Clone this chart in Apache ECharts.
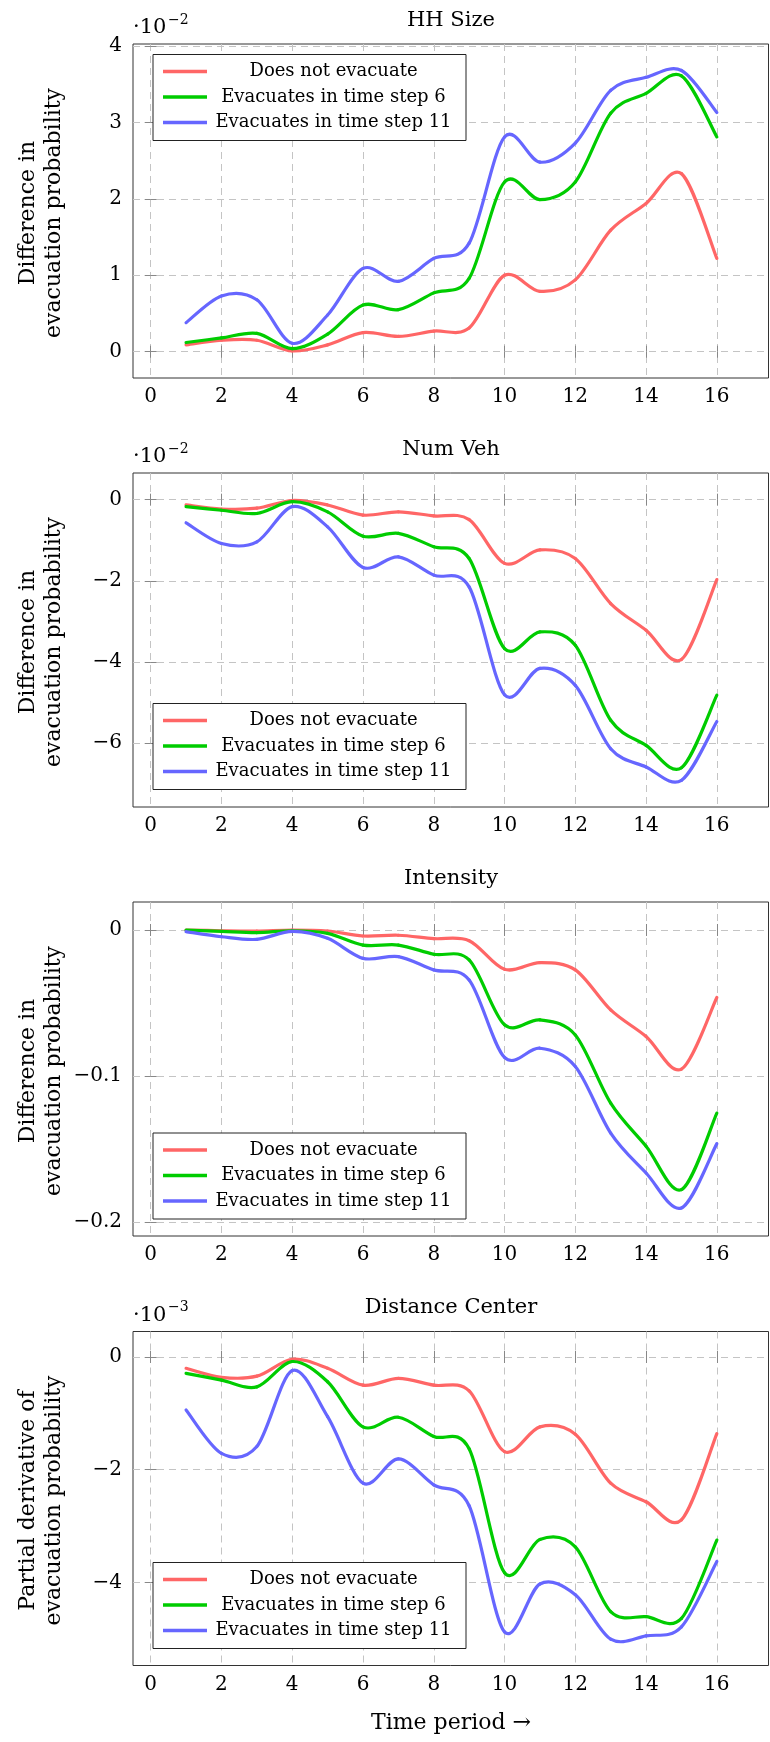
<!DOCTYPE html>
<html>
<head>
<meta charset="utf-8">
<script src="https://cdn.jsdelivr.net/npm/echarts@6/dist/echarts.min.js"></script>
<style>
html,body{margin:0;padding:0;background:#fff;}
#chart{width:770px;height:1742px;}
</style>
</head>
<body>
<div id="chart"></div>
<script>
// ---------- data ----------
const timeSteps = [1,2,3,4,5,6,7,8,9,10,11,12,13,14,15,16];
const xTicks = [0,2,4,6,8,10,12,14,16];
const seriesNames = ['Does not evacuate','Evacuates in time step 6','Evacuates in time step 11'];
const seriesColors = ['#ff6666','#00cc00','#6666ff'];

// HH Size (x 10^-2)
const hhRed   = [0.09,0.15,0.15,0.01,0.09,0.25,0.20,0.27,0.31,1.00,0.79,0.94,1.59,1.94,2.33,1.22];
const hhGreen = [0.12,0.18,0.24,0.04,0.23,0.61,0.55,0.77,0.96,2.22,1.99,2.22,3.12,3.38,3.61,2.81];
const hhBlue  = [0.38,0.73,0.68,0.11,0.48,1.09,0.92,1.22,1.42,2.81,2.48,2.73,3.42,3.59,3.68,3.13];
const hhTicks = [0,1,2,3,4];

// Num Veh (x 10^-2)
const nvRed   = [-0.13,-0.23,-0.21,-0.02,-0.13,-0.38,-0.30,-0.40,-0.49,-1.57,-1.24,-1.45,-2.56,-3.22,-3.94,-1.97];
const nvGreen = [-0.17,-0.26,-0.34,-0.05,-0.30,-0.90,-0.83,-1.16,-1.45,-3.67,-3.26,-3.59,-5.44,-6.06,-6.61,-4.82];
const nvBlue  = [-0.57,-1.08,-1.04,-0.17,-0.67,-1.67,-1.41,-1.86,-2.15,-4.81,-4.16,-4.58,-6.14,-6.59,-6.92,-5.47];
const nvTicks = [-6,-4,-2,0];

// Intensity
const inRed   = [0,-0.0005,-0.0007,0,-0.0007,-0.0041,-0.0036,-0.0059,-0.0073,-0.0269,-0.0223,-0.0273,-0.0547,-0.0729,-0.0952,-0.0462];
const inGreen = [0,-0.0009,-0.0018,-0.0005,-0.0023,-0.0103,-0.0103,-0.0166,-0.0205,-0.0649,-0.0615,-0.0718,-0.1185,-0.1480,-0.1777,-0.1253];
const inBlue  = [-0.0011,-0.0046,-0.0064,-0.0009,-0.0057,-0.0194,-0.0182,-0.0273,-0.0342,-0.0872,-0.0809,-0.0934,-0.1390,-0.1663,-0.1902,-0.1462];
const inTicks = [-0.2,-0.1,0];

// Distance Center (x 10^-3)
const dcRed   = [-0.20,-0.36,-0.34,-0.04,-0.20,-0.50,-0.38,-0.50,-0.60,-1.68,-1.24,-1.37,-2.24,-2.57,-2.89,-1.36];
const dcGreen = [-0.29,-0.41,-0.53,-0.08,-0.44,-1.24,-1.07,-1.41,-1.63,-3.83,-3.24,-3.37,-4.52,-4.61,-4.64,-3.25];
const dcBlue  = [-0.94,-1.71,-1.59,-0.24,-1.06,-2.24,-1.81,-2.27,-2.64,-4.88,-4.03,-4.22,-5.01,-4.95,-4.79,-3.63];
const dcTicks = [-4,-2,0];

const panelTitles = ['HH Size','Num Veh','Intensity','Distance Center'];
const panelExponents = ['−2','−2','','−3'];
const yLabelLine1 = ['Difference in','Difference in','Difference in','Partial derivative of'];
const yLabelLine2 = 'evacuation probability';
const xAxisTitle = 'Time period →';

// ---------- layout ----------
const FONT = '"DejaVu Serif", serif';
const GRID_LEFT = 133, GRID_W = 635.5, GRID_H = 334;
const gridTops = [44, 473, 902, 1331.5];
const yRanges = [[-0.344,4.026],[-7.578,0.658],[-0.2094,0.01916],[-5.477,0.453]];
const legendTops = [54.5, 703.5, 1133, 1562.5];
const TENSION = 0.16;   // cardinal-spline handle factor (like a "smooth" plot)

const panels = [
  {data:[hhRed,hhGreen,hhBlue], ticks:hhTicks},
  {data:[nvRed,nvGreen,nvBlue], ticks:nvTicks},
  {data:[inRed,inGreen,inBlue], ticks:inTicks},
  {data:[dcRed,dcGreen,dcBlue], ticks:dcTicks}
];

const fmt = v => String(v).replace('-', '−');
const tickStyle = {show:true, inside:true, length:6, lineStyle:{color:'#888', width:1}};
const splitStyle = {show:true, lineStyle:{type:[7,5], color:'#c4c4c4', width:1}};

// smooth curve segment between consecutive points, positioned by the axes (api.coord)
function smoothRenderer(xs, ys, color) {
  const n = xs.length;
  return function (params, api) {
    const k = params.dataIndex;
    if (k >= n - 1) return null;
    const P = i => { const j = Math.max(0, Math.min(n - 1, i)); return api.coord([xs[j], ys[j]]); };
    const p0 = P(k - 1), p1 = P(k), p2 = P(k + 1), p3 = P(k + 2);
    return {
      type: 'bezierCurve',
      shape: {
        x1: p1[0], y1: p1[1],
        cpx1: p1[0] + TENSION * (p2[0] - p0[0]), cpy1: p1[1] + TENSION * (p2[1] - p0[1]),
        cpx2: p2[0] - TENSION * (p3[0] - p1[0]), cpy2: p2[1] - TENSION * (p3[1] - p1[1]),
        x2: p2[0], y2: p2[1]
      },
      style: { stroke: color, lineWidth: 3.2, fill: null, lineCap: 'round', lineJoin: 'round' },
      silent: true
    };
  };
}

const grid = [], xAxis = [], yAxis = [], series = [], legend = [], graphic = [];

panels.forEach((p, i) => {
  grid.push({left:GRID_LEFT, width:GRID_W, top:gridTops[i], height:GRID_H,
             show:true, borderColor:'#333', borderWidth:1, backgroundColor:'transparent'});
  xAxis.push({type:'value', gridIndex:i, min:-0.5, max:17.46, position:'bottom',
    axisLine:{show:false},
    axisTick:Object.assign({customValues:xTicks}, tickStyle),
    axisLabel:{show:true, customValues:xTicks, margin:9, color:'#000', fontFamily:FONT, fontSize:20, formatter:fmt},
    splitLine:splitStyle});
  xAxis.push({type:'value', gridIndex:i, min:-0.5, max:17.46, position:'top',
    axisLine:{show:false},
    axisTick:Object.assign({customValues:xTicks}, tickStyle),
    axisLabel:{show:false}, splitLine:{show:false}});
  yAxis.push({type:'value', gridIndex:i, min:yRanges[i][0], max:yRanges[i][1], position:'left',
    axisLine:{show:false},
    axisTick:Object.assign({customValues:p.ticks}, tickStyle),
    axisLabel:{show:true, customValues:p.ticks, margin:11, color:'#000', fontFamily:FONT, fontSize:20, formatter:fmt},
    splitLine:splitStyle});
  yAxis.push({type:'value', gridIndex:i, min:yRanges[i][0], max:yRanges[i][1], position:'right',
    axisLine:{show:false},
    axisTick:Object.assign({customValues:p.ticks}, tickStyle),
    axisLabel:{show:false}, splitLine:{show:false}});

  p.data.forEach((arr, j) => {
    series.push({type:'custom', name:seriesNames[j], coordinateSystem:'cartesian2d',
      xAxisIndex:2*i, yAxisIndex:2*i,
      data: timeSteps.map((t,k) => [t, arr[k]]),
      encode:{x:0, y:1},
      renderItem: smoothRenderer(timeSteps, arr, seriesColors[j]),
      itemStyle:{color:seriesColors[j]},
      z:3, animation:false, silent:true});
  });

  legend.push({orient:'vertical', left:153, top:legendTops[i], data:seriesNames,
    selectedMode:false, icon:'rect', itemWidth:44, itemHeight:3.5, itemGap:7.5,
    padding:[8,11,9,10], backgroundColor:'#fff', borderColor:'#222', borderWidth:1, borderRadius:0,
    formatter: name => '{c|' + name + '}',
    textStyle:{color:'#000', fontFamily:FONT, fontSize:18,
      rich:{c:{width:243, align:'center', lineHeight:20, fontFamily:FONT, fontSize:18, color:'#000'}}},
    z:10});

  graphic.push({type:'text', x:451, y:gridTops[i]-23.5, silent:true,
    style:{text:panelTitles[i], font:'21px ' + FONT, fill:'#000',
           align:'center', verticalAlign:'middle', textAlign:'center', textVerticalAlign:'middle'}});
  if (panelExponents[i]) {
    graphic.push({type:'text', x:133, y:gridTops[i]-16, silent:true,
      style:{text:'·10', font:'21px ' + FONT, fill:'#000',
             align:'left', verticalAlign:'middle', textAlign:'left', textVerticalAlign:'middle'}});
    graphic.push({type:'text', x:168, y:gridTops[i]-24, silent:true,
      style:{text:panelExponents[i], font:'14px ' + FONT, fill:'#000',
             align:'left', verticalAlign:'middle', textAlign:'left', textVerticalAlign:'middle'}});
  }
  const cy = gridTops[i] + GRID_H/2 + 2;
  graphic.push({type:'text', x:28, y:cy, rotation:Math.PI/2, silent:true,
    style:{text:yLabelLine1[i], font:'22px ' + FONT, fill:'#000',
           align:'center', verticalAlign:'middle', textAlign:'center', textVerticalAlign:'middle'}});
  graphic.push({type:'text', x:54.5, y:cy, rotation:Math.PI/2, silent:true,
    style:{text:yLabelLine2, font:'22px ' + FONT, fill:'#000',
           align:'center', verticalAlign:'middle', textAlign:'center', textVerticalAlign:'middle'}});
});

graphic.push({type:'text', x:451, y:1723, silent:true,
  style:{text:xAxisTitle, font:'22px ' + FONT, fill:'#000',
         align:'center', verticalAlign:'middle', textAlign:'center', textVerticalAlign:'middle'}});

const chart = echarts.init(document.getElementById('chart'), null, {renderer:'canvas'});
chart.setOption({
  backgroundColor:'#fff',
  animation:false,
  grid, xAxis, yAxis, series, legend, graphic
});
</script>
</body>
</html>
